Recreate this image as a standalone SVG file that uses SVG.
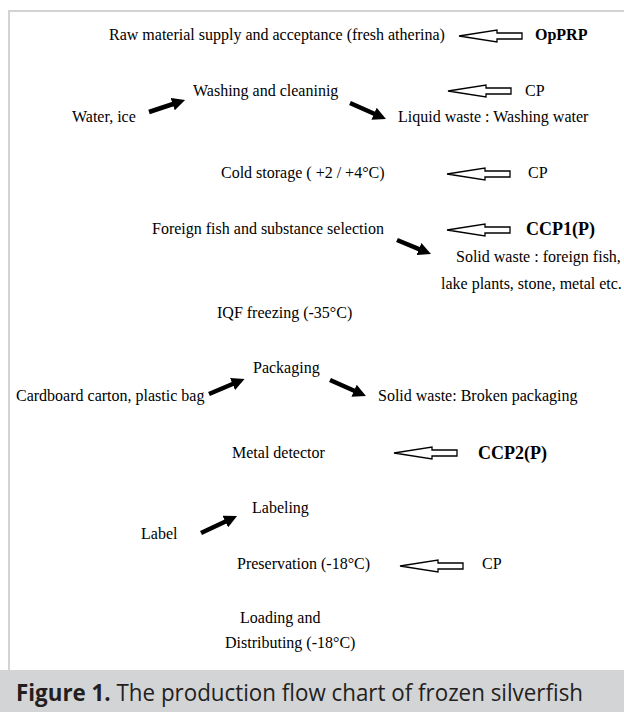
<svg xmlns="http://www.w3.org/2000/svg" width="624" height="712" viewBox="0 0 624 712">
  <style>
    .t { font-family: "Liberation Serif", "Times New Roman", serif; font-size: 16px; fill: #000; }
    .b { font-family: "Liberation Serif", "Times New Roman", serif; font-weight: bold; fill: #000; }
    .hollow { fill: #fff; stroke: #000; stroke-width: 1.3; stroke-linejoin: miter; }
    .solid { stroke: #000; stroke-width: 4.5; fill: none; marker-end: url(#head); }
    .cap { font-family: "Open Sans", "Noto Sans", sans-serif; font-size: 23px; fill: #231f20; }
  </style>
  <defs>
    <marker id="head" markerUnits="userSpaceOnUse" markerWidth="14" markerHeight="13" refX="2" refY="6.5" orient="auto" viewBox="0 0 14 13">
      <path d="M0,0 L13,6.5 L0,13 z" fill="#000"/>
    </marker>
    <path id="harrow" d="M0,0 L38,-6 L38,-3 L63,-3 L63,3 L38,3 L38,6 Z"/>
  </defs>

  <rect x="0" y="0" width="624" height="712" fill="#fff"/>
  <path d="M9,670 V11 H624" fill="none" stroke="#d3d3d3" stroke-width="2"/>
  <rect x="0" y="670" width="624" height="42" fill="#d3d4d6"/>

  <g id="n-raw"><text class="t" x="109" y="40">Raw material supply and acceptance (fresh atherina)</text></g>
  <g id="n-opprp"><text class="b" font-size="16" x="535" y="40">OpPRP</text></g>
  <g id="n-washing"><text class="t" x="193" y="96">Washing and cleaninig</text></g>
  <g id="n-cp1"><text class="t" x="525" y="96">CP</text></g>
  <g id="n-water"><text class="t" x="72" y="122">Water, ice</text></g>
  <g id="n-liquid"><text class="t" x="398" y="122">Liquid waste : Washing water</text></g>
  <g id="n-cold"><text class="t" x="221" y="178">Cold storage ( +2 / +4°C)</text></g>
  <g id="n-cp2"><text class="t" x="528" y="178">CP</text></g>
  <g id="n-foreign"><text class="t" x="152" y="234">Foreign fish and substance selection</text></g>
  <g id="n-ccp1"><text class="b" font-size="18" x="526" y="235">CCP1(P)</text></g>
  <g id="n-solid1">
    <text class="t" x="456" y="262">Solid waste : foreign fish,</text>
    <text class="t" x="441" y="289">lake plants, stone, metal etc.</text>
  </g>
  <g id="n-iqf"><text class="t" x="217" y="318">IQF freezing (-35°C)</text></g>
  <g id="n-packaging"><text class="t" x="253" y="373">Packaging</text></g>
  <g id="n-cardboard"><text class="t" x="16" y="401">Cardboard carton, plastic bag</text></g>
  <g id="n-solid2"><text class="t" x="378" y="401">Solid waste: Broken packaging</text></g>
  <g id="n-metal"><text class="t" x="232" y="458">Metal detector</text></g>
  <g id="n-ccp2"><text class="b" font-size="18" x="478" y="459">CCP2(P)</text></g>
  <g id="n-labeling"><text class="t" x="252" y="513">Labeling</text></g>
  <g id="n-label"><text class="t" x="141" y="539">Label</text></g>
  <g id="n-preservation"><text class="t" x="237" y="569">Preservation (-18°C)</text></g>
  <g id="n-cp3"><text class="t" x="482" y="569">CP</text></g>
  <g id="n-loading">
    <text class="t" x="240" y="623">Loading and</text>
    <text class="t" x="225" y="648">Distributing (-18°C)</text>
  </g>

  <g id="connectors">
    <use href="#harrow" class="hollow" x="459" y="36"/>
    <use href="#harrow" class="hollow" x="448" y="91"/>
    <use href="#harrow" class="hollow" x="447" y="174"/>
    <use href="#harrow" class="hollow" x="447" y="230"/>
    <use href="#harrow" class="hollow" x="394" y="453"/>
    <use href="#harrow" class="hollow" x="400" y="566"/>

    <line class="solid" x1="149" y1="112" x2="174.6" y2="103.5"/>
    <line class="solid" x1="350" y1="103" x2="375.9" y2="114.5"/>
    <line class="solid" x1="397" y1="240" x2="420.8" y2="249.8"/>
    <line class="solid" x1="209" y1="394" x2="234.4" y2="383.3"/>
    <line class="solid" x1="330" y1="380" x2="355.9" y2="391.5"/>
    <line class="solid" x1="201" y1="533" x2="227.1" y2="520.7"/>
  </g>

  <g id="caption">
    <text class="cap" x="16" y="701" textLength="567" lengthAdjust="spacingAndGlyphs"><tspan font-weight="bold">Figure 1.</tspan> The production flow chart of frozen silverfish</text>
  </g>
</svg>
